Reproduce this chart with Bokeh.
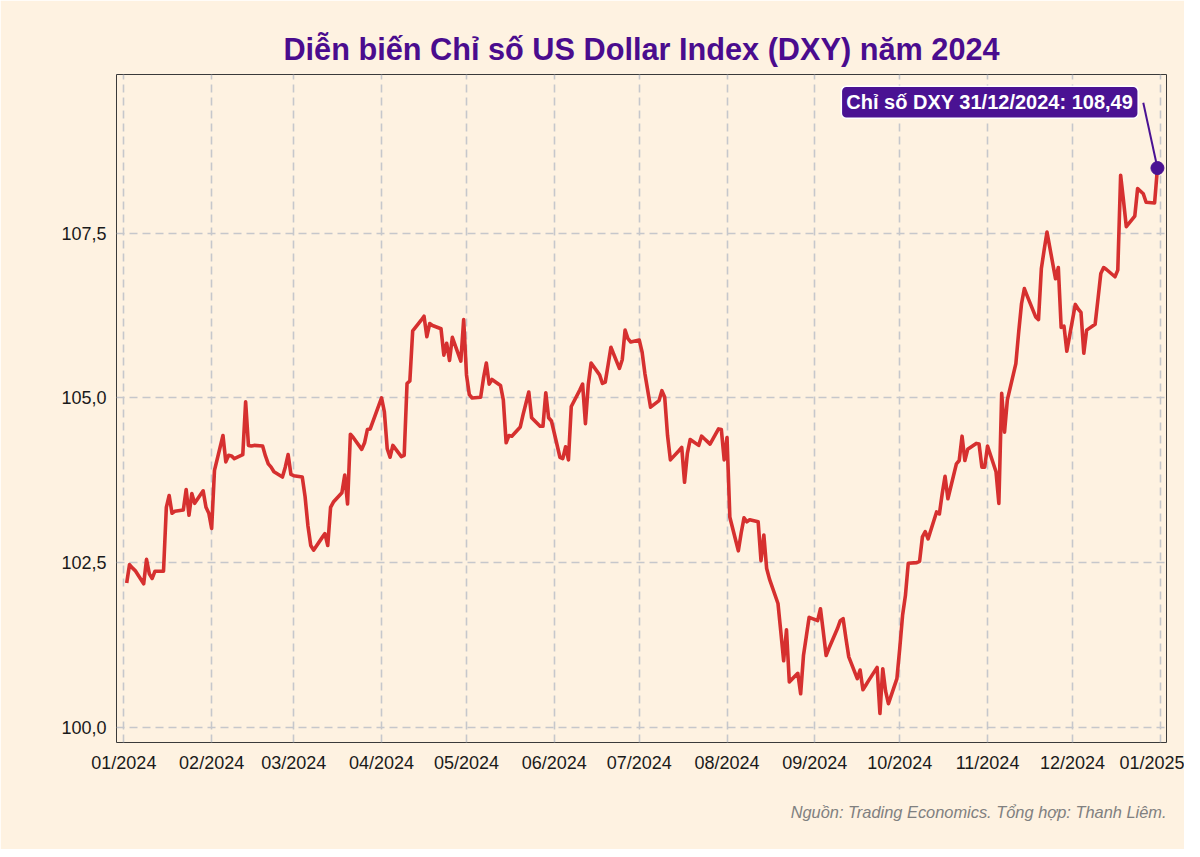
import pandas as pd
from bokeh.plotting import figure
from bokeh.models import (Range1d, FixedTicker, CustomJSTickFormatter, Label, Title)
from bokeh.embed import file_html
from bokeh.resources import INLINE

# ---------------- data ----------------
dates = [
    "2024-01-02","2024-01-03","2024-01-04","2024-01-05","2024-01-08","2024-01-09","2024-01-10","2024-01-11","2024-01-12",
    "2024-01-15","2024-01-16","2024-01-17","2024-01-18","2024-01-19","2024-01-22","2024-01-23","2024-01-24","2024-01-25",
    "2024-01-26","2024-01-29","2024-01-30","2024-01-31","2024-02-01","2024-02-02","2024-02-05","2024-02-06","2024-02-07",
    "2024-02-08","2024-02-09","2024-02-12","2024-02-13","2024-02-14","2024-02-15","2024-02-16","2024-02-19","2024-02-20",
    "2024-02-21","2024-02-22","2024-02-23","2024-02-26","2024-02-27","2024-02-28","2024-02-29","2024-03-01","2024-03-04",
    "2024-03-05","2024-03-06","2024-03-07","2024-03-08","2024-03-11","2024-03-12","2024-03-13","2024-03-14","2024-03-15",
    "2024-03-18","2024-03-19","2024-03-20","2024-03-21","2024-03-22","2024-03-25","2024-03-26","2024-03-27","2024-03-28",
    "2024-04-01","2024-04-02","2024-04-03","2024-04-04","2024-04-05","2024-04-08","2024-04-09","2024-04-10","2024-04-11",
    "2024-04-12","2024-04-15","2024-04-16","2024-04-17","2024-04-18","2024-04-19","2024-04-22","2024-04-23","2024-04-24",
    "2024-04-25","2024-04-26","2024-04-29","2024-04-30","2024-05-01","2024-05-02","2024-05-03","2024-05-06","2024-05-07",
    "2024-05-08","2024-05-09","2024-05-10","2024-05-13","2024-05-14","2024-05-15","2024-05-16","2024-05-17","2024-05-20",
    "2024-05-21","2024-05-22","2024-05-23","2024-05-24","2024-05-27","2024-05-28","2024-05-29","2024-05-30","2024-05-31",
    "2024-06-03","2024-06-04","2024-06-05","2024-06-06","2024-06-07","2024-06-10","2024-06-11","2024-06-12","2024-06-13",
    "2024-06-14","2024-06-17","2024-06-18","2024-06-19","2024-06-20","2024-06-21","2024-06-24","2024-06-25","2024-06-26",
    "2024-06-27","2024-06-28","2024-07-01","2024-07-02","2024-07-03","2024-07-05","2024-07-08","2024-07-09","2024-07-10",
    "2024-07-11","2024-07-12","2024-07-15","2024-07-16","2024-07-17","2024-07-18","2024-07-19","2024-07-22","2024-07-23",
    "2024-07-24","2024-07-25","2024-07-26","2024-07-29","2024-07-30","2024-07-31","2024-08-01","2024-08-02","2024-08-05",
    "2024-08-06","2024-08-07","2024-08-08","2024-08-09","2024-08-12","2024-08-13","2024-08-14","2024-08-15","2024-08-16",
    "2024-08-19","2024-08-20","2024-08-21","2024-08-22","2024-08-23","2024-08-26","2024-08-27","2024-08-28","2024-08-29",
    "2024-08-30","2024-09-02","2024-09-03","2024-09-04","2024-09-05","2024-09-06","2024-09-09","2024-09-10","2024-09-11",
    "2024-09-12","2024-09-13","2024-09-16","2024-09-17","2024-09-18","2024-09-19","2024-09-20","2024-09-23","2024-09-24",
    "2024-09-25","2024-09-26","2024-09-27","2024-09-30","2024-10-01","2024-10-02","2024-10-03","2024-10-04","2024-10-07",
    "2024-10-08","2024-10-09","2024-10-10","2024-10-11","2024-10-14","2024-10-15","2024-10-16","2024-10-17","2024-10-18",
    "2024-10-21","2024-10-22","2024-10-23","2024-10-24","2024-10-25","2024-10-28","2024-10-29","2024-10-30","2024-10-31",
    "2024-11-01","2024-11-04","2024-11-05","2024-11-06","2024-11-07","2024-11-08","2024-11-11","2024-11-12","2024-11-13",
    "2024-11-14","2024-11-15","2024-11-18","2024-11-19","2024-11-20","2024-11-21","2024-11-22","2024-11-25","2024-11-26",
    "2024-11-27","2024-11-28","2024-11-29","2024-12-02","2024-12-03","2024-12-04","2024-12-05","2024-12-06","2024-12-09",
    "2024-12-10","2024-12-11","2024-12-12","2024-12-13","2024-12-16","2024-12-17","2024-12-18","2024-12-19","2024-12-20",
    "2024-12-23","2024-12-24","2024-12-26","2024-12-27","2024-12-30","2024-12-31",
]
dxy = [
    102.19,102.47,102.42,102.38,102.18,102.55,102.33,102.26,102.37,
    102.37,103.34,103.52,103.25,103.28,103.30,103.61,103.22,103.55,
    103.40,103.59,103.34,103.25,103.02,103.90,104.43,104.03,104.13,
    104.12,104.08,104.14,104.94,104.28,104.27,104.28,104.27,104.12,
    104.00,103.95,103.88,103.80,103.95,104.14,103.84,103.82,103.80,
    103.50,103.06,102.76,102.69,102.88,102.94,102.76,103.34,103.42,
    103.56,103.83,103.39,104.45,104.40,104.22,104.32,104.52,104.53,
    105.00,104.79,104.23,104.10,104.28,104.11,104.13,105.22,105.26,
    106.02,106.18,106.24,105.93,106.13,106.10,106.05,105.65,105.83,
    105.57,105.92,105.56,106.19,105.35,105.05,105.00,105.01,105.30,
    105.53,105.21,105.28,105.19,104.97,104.32,104.43,104.42,104.56,
    104.75,104.92,105.09,104.70,104.57,104.57,105.08,104.70,104.65,
    104.10,104.08,104.26,104.06,104.87,105.12,105.21,104.61,105.20,
    105.53,105.35,105.22,105.24,105.50,105.77,105.45,105.58,106.03,
    105.90,105.85,105.88,105.70,105.37,104.86,104.96,105.11,105.01,
    104.43,104.06,104.20,104.25,103.72,104.16,104.37,104.28,104.42,
    104.38,104.34,104.30,104.53,104.52,104.06,104.40,103.19,102.68,
    102.95,103.18,103.12,103.15,103.12,102.53,102.92,102.41,102.25,
    101.88,101.45,101.01,101.48,100.69,100.82,100.51,101.09,101.38,
    101.67,101.62,101.80,101.45,101.09,101.20,101.50,101.62,101.65,
    101.35,101.07,100.74,100.87,100.57,100.64,100.71,100.91,100.21,
    100.89,100.55,100.36,100.74,101.20,101.70,102.00,102.49,102.50,
    102.52,102.89,102.97,102.86,103.27,103.24,103.55,103.81,103.47,
    104.00,104.05,104.42,104.05,104.22,104.31,104.30,103.95,103.95,
    104.27,103.88,103.40,105.07,104.48,104.97,105.52,106.00,106.43,
    106.66,106.55,106.23,106.19,106.96,107.25,107.52,106.81,106.98,
    106.07,106.09,105.71,106.42,106.35,106.30,105.68,106.03,106.12,
    106.50,106.89,106.98,106.95,106.84,106.94,108.38,108.00,107.60,
    107.76,108.18,108.10,107.97,107.96,108.49,
]
month_ticks = ["2024-01-01","2024-02-01","2024-03-01","2024-04-01","2024-05-01","2024-06-01","2024-07-01",
               "2024-08-01","2024-09-01","2024-10-01","2024-11-01","2024-12-01","2025-01-01"]
y_ticks = [100.0, 102.5, 105.0, 107.5]

title_text = "Diễn biến Chỉ số US Dollar Index (DXY) năm 2024"
source_text = "Nguồn: Trading Economics. Tổng hợp: Thanh Liêm."
label_text = "Chỉ số DXY 31/12/2024: 108,49"

# ---------------- styling ----------------
BG = "#FEF2E1"
RED = "#D6302F"
PURPLE = "#4A1293"
TITLE_PURPLE = "#4A0C8E"
FONT = "Liberation Sans"

x = pd.to_datetime(dates)
DAY = 86400000.0
t0 = pd.Timestamp("2024-01-01").value / 1e6
t1 = pd.Timestamp("2025-01-01").value / 1e6

p = figure(width=1184, height=849, x_axis_type="datetime",
           output_backend="svg", toolbar_location=None,
           x_range=Range1d(t0 - 2.6 * DAY, t1 + 2.2 * DAY),
           y_range=Range1d(99.77, 109.91),
           min_border_left=116, min_border_right=18,
           min_border_top=74, min_border_bottom=107)

p.background_fill_color = BG
p.border_fill_color = BG
p.outline_line_color = "#3a3a3a"
p.outline_line_width = 1

# title
p.title.text = title_text
p.title.align = "center"
p.title.text_font = FONT
p.title.text_font_size = "30.7px"
p.title.text_font_style = "bold"
p.title.text_color = TITLE_PURPLE
p.title.standoff = 16

# grids
for g in (p.xgrid, p.ygrid):
    g.grid_line_color = "#C6C7CB"
    g.grid_line_width = 1.6
    g.grid_line_dash = "8 5"

# axes
p.xaxis.ticker = FixedTicker(ticks=[pd.Timestamp(d).value / 1e6 for d in month_ticks])
p.xaxis.formatter = CustomJSTickFormatter(code="""
    const d = new Date(tick);
    const m = d.getUTCMonth() + 1;
    return (m < 10 ? '0' : '') + m + '/' + d.getUTCFullYear();
""")
p.yaxis.ticker = FixedTicker(ticks=y_ticks)
p.yaxis.formatter = CustomJSTickFormatter(code="return tick.toFixed(1).replace('.', ',');")
for ax in (p.xaxis, p.yaxis):
    ax.axis_line_color = None
    ax.major_tick_line_color = None
    ax.minor_tick_line_color = None
    ax.major_tick_out = 0
    ax.major_tick_in = 0
    ax.minor_tick_out = 0
    ax.minor_tick_in = 0
    ax.major_label_text_font = FONT
    ax.major_label_text_font_size = "18px"
    ax.major_label_text_color = "#1a1a1a"
    ax.major_label_standoff = 10

# line
p.line(x, dxy, line_color=RED, line_width=3.6, line_join="round")

# annotation for last point
last_x = x[-1].value / 1e6
last_y = dxy[-1]
p.segment(x0=[last_x - 5.0 * DAY], y0=[last_y + 0.99], x1=[last_x], y1=[last_y],
          line_color=PURPLE, line_width=2)
p.scatter([last_x], [last_y], size=13, color=PURPLE)
lab = Label(x=last_x - 6.8 * DAY, y=last_y + 1.0, text=label_text,
            text_align="right", text_baseline="middle",
            text_font=FONT, text_font_size="20px", text_font_style="bold",
            text_color="white",
            background_fill_color=PURPLE, background_fill_alpha=1.0,
            border_line_color="white", border_line_width=1.5,
            border_radius=5, padding=5)
p.add_layout(lab)

# source caption
src = Title(text=source_text, align="right", text_font=FONT, text_font_size="16.4px",
            text_font_style="italic", text_color="#808080", standoff=50)
p.add_layout(src, "below")

open("out.html", "w").write(file_html(p, INLINE))
